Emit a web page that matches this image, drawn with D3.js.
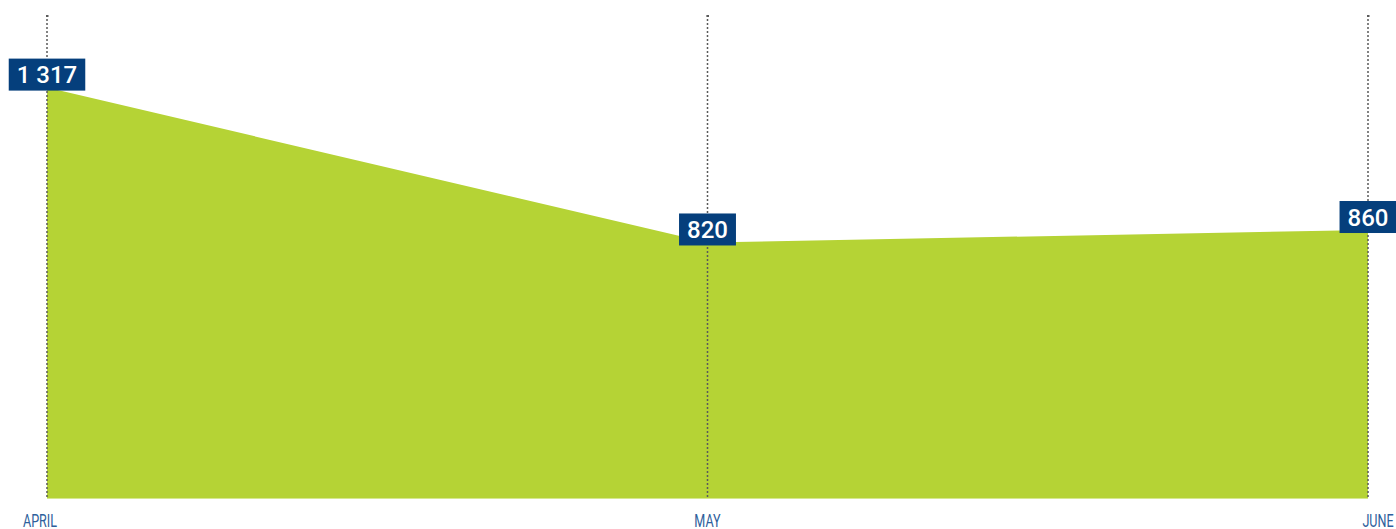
<!DOCTYPE html>
<html><head><meta charset="utf-8">
<script src="https://cdn.jsdelivr.net/npm/d3@7"></script>
<style>
html,body{margin:0;padding:0;background:#fff;}
svg{display:block;}
</style></head>
<body>
<svg id="chart" width="1396" height="529"></svg>
<script>
const categories = ["APRIL", "MAY", "JUNE"];
const values = [1317, 820, 860];
const yMax = 1550;

const W = 1396, H = 529;
const svg = d3.select("#chart");
const x = d3.scalePoint().domain(categories).range([47, 1368]);
const y = d3.scaleLinear().domain([0, yMax]).range([498, 15]);
const fmt = d3.formatLocale({decimal: ",", thousands: " ", grouping: [3], currency: ["", ""]}).format(",d");
const data = categories.map((c, i) => ({c, v: values[i]}));

// area
const area = d3.area().x(d => x(d.c)).y0(y(0)).y1(d => y(d.v)).curve(d3.curveLinear);
svg.append("path").datum(data).attr("d", area).attr("fill", "#b5d335");
svg.append("line").attr("x1", x(categories[0])).attr("x2", x(categories[categories.length-1]))
  .attr("y1", y(0) + 0.5).attr("y2", y(0) + 0.5).attr("stroke", "#d6e88f").attr("stroke-width", 1);

// dotted grid lines
svg.append("g").selectAll("line").data(categories).join("line")
  .attr("x1", d => x(d)).attr("x2", d => x(d))
  .attr("y1", y(yMax)).attr("y2", y(0))
  .attr("stroke", "#5a5a5a").attr("stroke-width", 1.5).attr("stroke-dasharray", "2,2");
svg.append("g").selectAll("line").data(categories).join("line")
  .attr("x1", d => x(d) - 1).attr("x2", d => x(d) + 1.5)
  .attr("y1", y(yMax) + 1).attr("y2", y(yMax) + 1)
  .attr("stroke", "#5a5a5a").attr("stroke-width", 2);

// axis labels (condensed look)
const lblShift = [-7, 0, 10];
svg.append("g").selectAll("text").data(categories).join("text")
  .attr("transform", (d, i) => `translate(${x(d) + lblShift[i]},527) scale(0.7,1)`)
  .attr("text-anchor", "middle")
  .attr("font-family", "Roboto, sans-serif")
  .attr("font-size", 18).attr("fill", "#2e5f9c")
  .text(d => d);

// value labels
const lg = svg.append("g").selectAll("g").data(data).join("g")
  .attr("transform", d => `translate(${x(d.c)},${y(d.v) - 13})`);
lg.each(function(d) {
  const g = d3.select(this);
  const t = g.append("text").attr("text-anchor", "middle").attr("dy", "0.36em")
    .attr("font-family", "Roboto, sans-serif").attr("font-weight", 500)
    .attr("font-size", 24).attr("fill", "#fff").text(fmt(d.v));
  const bb = t.node().getBBox();
  g.insert("rect", "text").attr("x", -bb.width / 2 - 8).attr("y", -16)
    .attr("width", bb.width + 16).attr("height", 32).attr("fill", "#053f7c");
});
</script>
</body></html>
